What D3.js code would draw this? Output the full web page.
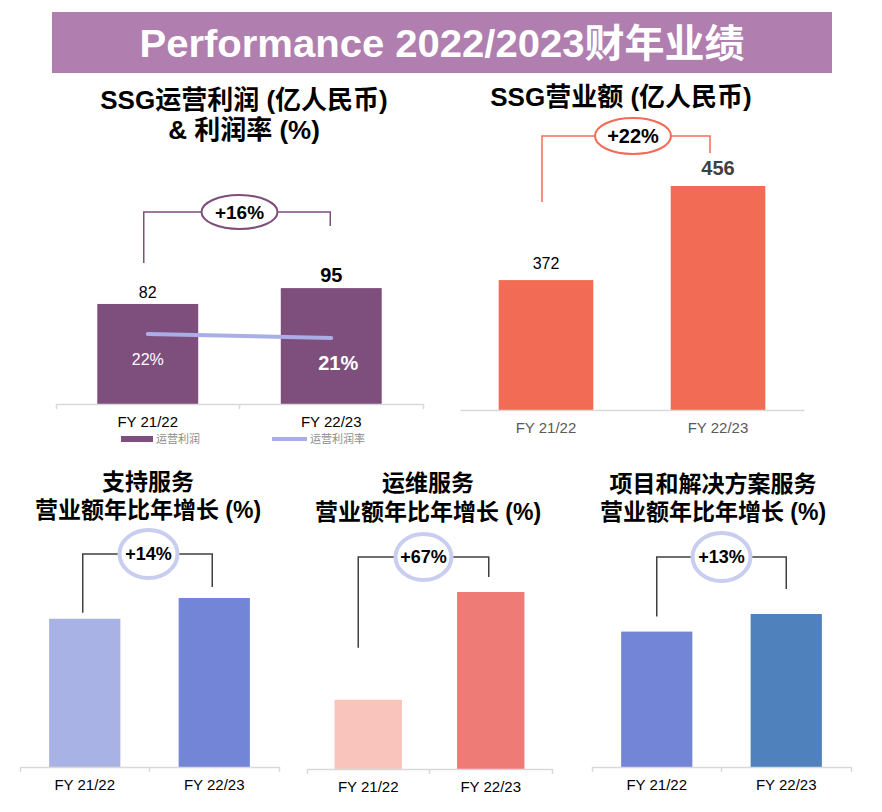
<!DOCTYPE html>
<html>
<head>
<meta charset="utf-8">
<script src="https://cdn.jsdelivr.net/npm/d3@7"></script>
<style>
  body { margin: 0; background: #fff; }
  svg { display: block; }
  text { font-family: "Liberation Sans", Arial, "Noto Sans CJK SC", sans-serif; }
</style>
</head>
<body>
<svg id="chart" width="882" height="812"></svg>
<script>
// ---- data ----
const years = ["FY 21/22", "FY 22/23"];
const opProfit = [82, 95];        // 运营利润 (亿人民币)
const opMargin = [22, 21];        // 运营利润率 (%)
const revenue = [372, 456];       // SSG营业额 (亿人民币)
const supportRev = [100, 114];    // 支持服务, indexed
const omRev = [100, 167];         // 运维服务, indexed
const projectRev = [100, 113];    // 项目和解决方案服务, indexed
const growth = ["+16%", "+22%", "+14%", "+67%", "+13%"];
const legendNames = ["运营利润", "运营利润率"];

const svg = d3.select("#chart");

// banner
svg.append("rect")
  .attr("x", 52).attr("y", 12).attr("width", 780).attr("height", 61)
  .attr("fill", "#b07fb0");
svg.append("text")
  .attr("x", 442).attr("y", 57)
  .attr("text-anchor", "middle")
  .attr("font-size", 39).attr("font-weight", "bold").attr("fill", "#fff")
  .attr("textLength", 605).attr("lengthAdjust", "spacingAndGlyphs")
  .text("Performance 2022/2023财年业绩");

// panel layout (positions / styles only)
const panels = [
  { values: opProfit, title: ["SSG运营利润 (亿人民币)", "& 利润率 (%)"], tx: 244, ty: [100, 130], tsize: 26,
    x0: 56, x1: 423, base: 404, yDomain: [0, 100], yTop: 282, colors: ["#7e4e7c", "#7e4e7c"],
    axisColor: "#000", outerTicks: true, growth: growth[0], labelGap: 6,
    bracket: { top: 212, gapL: 41, gapR: 62, dxL: -4, dxR: -1, dx: 0, rx: 38, ry: 17, color: "#7e4e7c", ew: 2, ecolor: "#7e4e7c", fs: 19 },
    labels: [{ size: 16, bold: false, color: "#000" }, { size: 20, bold: true, color: "#000" }] },
  { values: revenue, title: ["SSG营业额 (亿人民币)"], tx: 621, ty: [97], tsize: 26,
    x0: 460, x1: 804, base: 410, yDomain: [256, 456], yTop: 186, colors: ["#f26b55", "#f26b55"],
    axisColor: "#595959", outerTicks: false, growth: growth[1], labelGap: 11,
    bracket: { top: 136, gapL: 78, gapR: 33, dxL: -4, dxR: -8, dx: 1, rx: 38, ry: 18, color: "#f26b55", ew: 2, ecolor: "#f26b55", fs: 20 },
    labels: [{ size: 16, bold: false, color: "#000" }, { size: 20, bold: true, color: "#404040" }] },
  { values: supportRev, title: ["支持服务", "营业额年比年增长 (%)"], tx: 148, ty: [482, 510], tsize: 23,
    x0: 20, x1: 279, base: 767, yDomain: [0, 114], yTop: 598, colors: ["#a8b2e4", "#7385d6"],
    axisColor: "#000", outerTicks: true, growth: growth[2],
    bracket: { top: 554, gapL: 6, gapR: 11, dxL: -2, dxR: -2, dx: -1, rx: 29, ry: 24, color: "#404040", ew: 4, ecolor: "#c9cdef", fs: 18 } },
  { values: omRev, title: ["运维服务", "营业额年比年增长 (%)"], tx: 428, ty: [483, 512], tsize: 23,
    x0: 307, x1: 552, base: 769, yDomain: [57, 167], yTop: 592, colors: ["#f8c4bb", "#ef7b76"],
    axisColor: "#000", outerTicks: true, growth: growth[3],
    bracket: { top: 557, gapL: 52, gapR: 15, dxL: -10, dxR: -2, dx: -6, rx: 28, ry: 23, color: "#404040", ew: 4, ecolor: "#c9cdef", fs: 18 } },
  { values: projectRev, title: ["项目和解决方案服务", "营业额年比年增长 (%)"], tx: 713, ty: [484, 512], tsize: 23,
    x0: 592, x1: 851, base: 767, yDomain: [0, 113], yTop: 614, colors: ["#7385d6", "#4f81bd"],
    axisColor: "#000", outerTicks: true, growth: growth[4],
    bracket: { top: 557, gapL: 15, gapR: 25, dxL: 0, dxR: 0, dx: 0, rx: 29, ry: 24, color: "#404040", ew: 4, ecolor: "#c9cdef", fs: 18 } }
];

function drawPanel(p) {
  const g = svg.append("g");

  const x = d3.scaleBand().domain(years).range([p.x0, p.x1])
    .paddingInner(0.45).paddingOuter(0.225);
  const y = d3.scaleLinear().domain(p.yDomain).range([p.base, p.yTop]);
  const cx = d => x(d) + x.bandwidth() / 2;

  // title
  p.title.forEach((t, i) => {
    g.append("text")
      .attr("x", p.tx).attr("y", p.ty[i]).attr("dy", "0.36em")
      .attr("text-anchor", "middle")
      .attr("font-size", p.tsize).attr("font-weight", "bold").attr("fill", "#000")
      .text(t);
  });

  // bars
  g.selectAll("rect.bar")
    .data(years)
    .join("rect")
      .attr("class", "bar")
      .attr("x", d => x(d))
      .attr("y", (d, i) => y(p.values[i]))
      .attr("width", x.bandwidth())
      .attr("height", (d, i) => p.base - y(p.values[i]))
      .attr("fill", (d, i) => p.colors[i]);

  // x axis
  const axis = g.append("g")
    .attr("transform", `translate(0,${p.base})`)
    .call(d3.axisBottom(x).tickSizeInner(0).tickSizeOuter(p.outerTicks ? 5 : 0).tickPadding(12));
  axis.select(".domain").attr("stroke", "#d9d9d9").attr("stroke-width", 1.5);
  axis.selectAll("text")
    .attr("font-size", 15).attr("fill", p.axisColor)
    .style("font-family", '"Liberation Sans", Arial, sans-serif');
  if (p.outerTicks) {
    axis.append("line")
      .attr("x1", (p.x0 + p.x1) / 2).attr("x2", (p.x0 + p.x1) / 2)
      .attr("y1", 0).attr("y2", 5)
      .attr("stroke", "#d9d9d9").attr("stroke-width", 1.5);
  }

  // value labels
  if (p.labels) {
    g.selectAll("text.val")
      .data(years)
      .join("text")
        .attr("class", "val")
        .attr("x", d => cx(d))
        .attr("y", (d, i) => y(p.values[i]) - p.labelGap)
        .attr("text-anchor", "middle")
        .attr("font-size", (d, i) => p.labels[i].size)
        .attr("font-weight", (d, i) => p.labels[i].bold ? "bold" : "normal")
        .attr("fill", (d, i) => p.labels[i].color)
        .text((d, i) => p.values[i]);
  }

  // growth bracket
  const b = p.bracket;
  const mx = (p.x0 + p.x1) / 2 + b.dx;
  const xl = cx(years[0]) + b.dxL, xr = cx(years[1]) + b.dxR;
  const yl = y(p.values[0]) - b.gapL, yr = y(p.values[1]) - b.gapR;
  const path = d3.path();
  path.moveTo(xl, yl); path.lineTo(xl, b.top); path.lineTo(mx - b.rx, b.top);
  path.moveTo(mx + b.rx, b.top); path.lineTo(xr, b.top); path.lineTo(xr, yr);
  g.append("path").attr("d", path.toString())
    .attr("fill", "none").attr("stroke", b.color).attr("stroke-width", 1.5);
  g.append("ellipse")
    .attr("cx", mx).attr("cy", b.top).attr("rx", b.rx).attr("ry", b.ry)
    .attr("fill", "#fff").attr("stroke", b.ecolor).attr("stroke-width", b.ew);
  g.append("text")
    .attr("x", mx).attr("y", b.top).attr("dy", "0.36em")
    .attr("text-anchor", "middle")
    .attr("font-size", b.fs).attr("font-weight", "bold").attr("fill", "#000")
    .text(p.growth);

  return { g, x, y, cx };
}

const drawn = panels.map(drawPanel);

// operating margin line on the first panel
const p1 = drawn[0];
const yRate = d3.scaleLinear().domain([20, 25]).range([342, 322]);
p1.g.append("path")
  .datum(opMargin)
  .attr("d", d3.line().x((d, i) => p1.cx(years[i])).y(d => yRate(d)))
  .attr("fill", "none").attr("stroke", "#a9aee6").attr("stroke-width", 4)
  .attr("stroke-linecap", "round");
const rateStyle = [{ size: 16, bold: false, dx: 0 }, { size: 20, bold: true, dx: 7 }];
p1.g.selectAll("text.rate")
  .data(opMargin)
  .join("text")
    .attr("class", "rate")
    .attr("x", (d, i) => p1.cx(years[i]) + rateStyle[i].dx)
    .attr("y", (d, i) => yRate(d) + 25)
    .attr("dy", "0.36em")
    .attr("text-anchor", "middle")
    .attr("font-size", (d, i) => rateStyle[i].size)
    .attr("font-weight", (d, i) => rateStyle[i].bold ? "bold" : "normal")
    .attr("fill", "#fff")
    .text(d => d + "%");

// legend
const legend = svg.append("g").attr("transform", "translate(0,439)");
legend.append("rect").attr("x", 121).attr("y", -3).attr("width", 32).attr("height", 6).attr("fill", "#7e4e7c");
legend.append("line").attr("x1", 272).attr("x2", 307).attr("y1", 0).attr("y2", 0)
  .attr("stroke", "#a9aee6").attr("stroke-width", 4);
legend.selectAll("text")
  .data(legendNames)
  .join("text")
    .attr("x", (d, i) => i === 0 ? 156 : 310)
    .attr("y", 0).attr("dy", "0.36em")
    .attr("font-size", 11).attr("fill", "#8c8c8c")
    .text(d => d);
</script>
</body>
</html>
